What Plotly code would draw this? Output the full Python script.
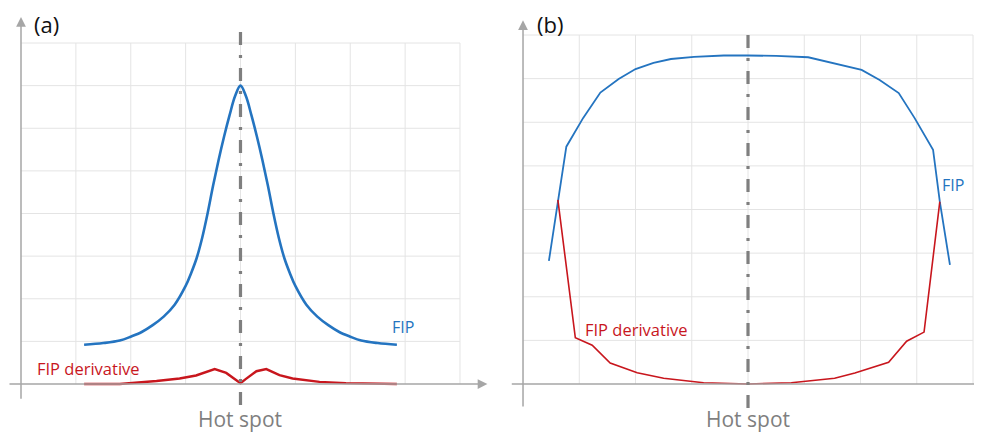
import plotly.graph_objects as go

# panel (a): sharp FIP peak at the hot spot
fip_a_x = [1.15, 1.5, 1.8, 2.0, 2.2, 2.4, 2.6, 2.8, 3.0, 3.1, 3.2, 3.3, 3.4, 3.5, 3.6,
           3.7, 3.8, 3.9, 4.0, 4.1, 4.2, 4.3, 4.4, 4.5, 4.6, 4.7, 4.8, 4.9, 5.0,
           5.2, 5.4, 5.6, 5.8, 6.0, 6.2, 6.5, 6.85]
fip_a_y = [0.92, 0.96, 1.02, 1.11, 1.22, 1.38, 1.58, 1.86, 2.30, 2.60, 2.95, 3.42, 4.00,
           4.65, 5.25, 5.80, 6.30, 6.75, 7.00, 6.75, 6.30, 5.80, 5.25, 4.65, 4.00,
           3.42, 2.95, 2.60, 2.30, 1.86, 1.58, 1.38, 1.22, 1.11, 1.02, 0.96, 0.92]
der_a_x = [1.15, 1.8, 2.47, 2.89, 3.19, 3.35, 3.53, 3.74, 3.9, 4.0, 4.1, 4.29, 4.47,
           4.71, 4.95, 5.44, 5.92, 6.85]
der_a_y = [0.0, 0.0, 0.07, 0.13, 0.20, 0.27, 0.35, 0.26, 0.10, 0.02, 0.12, 0.30, 0.35,
           0.21, 0.13, 0.05, 0.02, 0.0]

# panel (b): flat-topped FIP, derivative small in the middle
fip_b_x = [0.46, 0.62, 0.77, 1.07, 1.375, 1.70, 2.0, 2.32, 2.63, 3.04, 3.57, 4.0, 4.5,
           5.07, 5.66, 6.02, 6.34, 6.68, 6.96, 7.29, 7.41, 7.59]
fip_b_y = [2.82, 4.22, 5.44, 6.10, 6.68, 6.99, 7.22, 7.36, 7.45, 7.50, 7.53, 7.53, 7.52,
           7.49, 7.32, 7.20, 6.97, 6.67, 6.10, 5.37, 4.18, 2.73]
der_b_x = [0.62, 0.93, 1.23, 1.55, 2.03, 2.5, 3.21, 4.0, 4.77, 5.54, 5.9, 6.5, 6.82,
           7.13, 7.41]
der_b_y = [4.22, 1.06, 0.89, 0.48, 0.26, 0.13, 0.03, 0.0, 0.03, 0.13, 0.25, 0.50, 0.98,
           1.19, 4.18]

hot_spot = 4
grid_n = 8

BLUE = "#2474c0"
RED = "#c8161d"
AXIS = "#a6a6a6"
GRID = "#e4e4e4"
DASH = "#7f7f7f"
FONT = "Open Sans"

# page body has an 8px margin, so the figure is drawn 8px smaller
W, H = 974, 426
SPLIT = 482

fig = go.Figure()

fig.add_trace(go.Scatter(x=fip_a_x, y=fip_a_y, mode="lines", line=dict(color=BLUE, width=2.6),
                         xaxis="x", yaxis="y", line_shape="spline"))
fig.add_trace(go.Scatter(x=der_a_x, y=der_a_y, mode="lines", line=dict(color=RED, width=2.4),
                         xaxis="x", yaxis="y"))
fig.add_trace(go.Scatter(x=fip_b_x, y=fip_b_y, mode="lines", line=dict(color=BLUE, width=1.8),
                         xaxis="x2", yaxis="y2"))
fig.add_trace(go.Scatter(x=der_b_x, y=der_b_y, mode="lines", line=dict(color=RED, width=1.6),
                         xaxis="x2", yaxis="y2"))

shapes = []
annotations = []

panels = [
    dict(xr="x", yr="y", tag="(a)", tag_x=0.2, tag_y=8.45, yaxis_top=8.61, yaxis_bot=-0.38,
         xaxis_left=-0.237, xaxis_right=8.5, arrow_x=True, dash_top=8.38, dash_bot=-0.49,
         fip=(6.72, 1.34), der=(0.26, 0.36), hot_y=-0.82),
    dict(xr="x2", yr="y2", tag="(b)", tag_x=0.21, tag_y=8.25, yaxis_top=8.34, yaxis_bot=-0.55,
         xaxis_left=-0.2, xaxis_right=8.2, arrow_x=False, dash_top=8.11, dash_bot=-0.55,
         fip=(7.41, 4.56), der=(1.07, 1.25), hot_y=-0.80),
]

for p in panels:
    xr, yr = p["xr"], p["yr"]
    for i in range(1, grid_n + 1):
        shapes.append(dict(type="line", xref=xr, yref=yr, x0=i, x1=i, y0=0, y1=grid_n,
                           line=dict(color=GRID, width=1), layer="below"))
        shapes.append(dict(type="line", xref=xr, yref=yr, x0=0, x1=grid_n, y0=i, y1=i,
                           line=dict(color=GRID, width=1), layer="below"))
    # axes with arrows
    annotations.append(dict(xref=xr, yref=yr, axref=xr, ayref=yr, x=0, y=p["yaxis_top"],
                            ax=0, ay=p["yaxis_bot"], text="", showarrow=True, arrowhead=2,
                            arrowsize=1.3, arrowwidth=1.5, arrowcolor=AXIS))
    if p["arrow_x"]:
        annotations.append(dict(xref=xr, yref=yr, axref=xr, ayref=yr, x=p["xaxis_right"], y=0,
                                ax=p["xaxis_left"], ay=0, text="", showarrow=True, arrowhead=2,
                                arrowsize=1.3, arrowwidth=1.5, arrowcolor=AXIS))
    else:
        shapes.append(dict(type="line", xref=xr, yref=yr, x0=p["xaxis_left"], x1=p["xaxis_right"],
                           y0=0, y1=0, line=dict(color=AXIS, width=1.5)))
    # hot spot dash-dot line
    shapes.append(dict(type="line", xref=xr, yref=yr, x0=hot_spot, x1=hot_spot,
                       y0=p["dash_bot"], y1=p["dash_top"],
                       line=dict(color=DASH, width=3.2, dash="13px,10px,3px,10px"), layer="above"))
    annotations.append(dict(xref=xr, yref=yr, x=p["tag_x"], y=p["tag_y"], text=p["tag"],
                            showarrow=False, xanchor="left", font=dict(size=22, color="#111111", family=FONT)))
    annotations.append(dict(xref=xr, yref=yr, x=p["fip"][0], y=p["fip"][1], text="FIP",
                            showarrow=False, xanchor="left", font=dict(size=16, color=BLUE, family=FONT)))
    annotations.append(dict(xref=xr, yref=yr, x=p["der"][0], y=p["der"][1], text="FIP derivative",
                            showarrow=False, xanchor="left", font=dict(size=16.5, color=RED, family=FONT)))
    annotations.append(dict(xref=xr, yref=yr, x=hot_spot, y=p["hot_y"], text="Hot spot",
                            showarrow=False, borderpad=0, font=dict(size=21, color=DASH, family=FONT)))

hidden = dict(visible=False, fixedrange=True)
fig.update_layout(
    width=W, height=H,
    margin=dict(l=0, r=0, t=0, b=0),
    paper_bgcolor="white", plot_bgcolor="white",
    showlegend=False,
    xaxis=dict(domain=[0, SPLIT / W], range=[-0.237, 8.547], **hidden),
    yaxis=dict(domain=[0, 1], range=[-1.173, 8.821], **hidden),
    xaxis2=dict(domain=[SPLIT / W, 1], range=[-0.587, 8.16], anchor="y2", **hidden),
    yaxis2=dict(domain=[0, 1], range=[-1.146, 8.619], anchor="x2", **hidden),
    shapes=shapes,
    annotations=annotations,
)

fig.write_html("out.html")
